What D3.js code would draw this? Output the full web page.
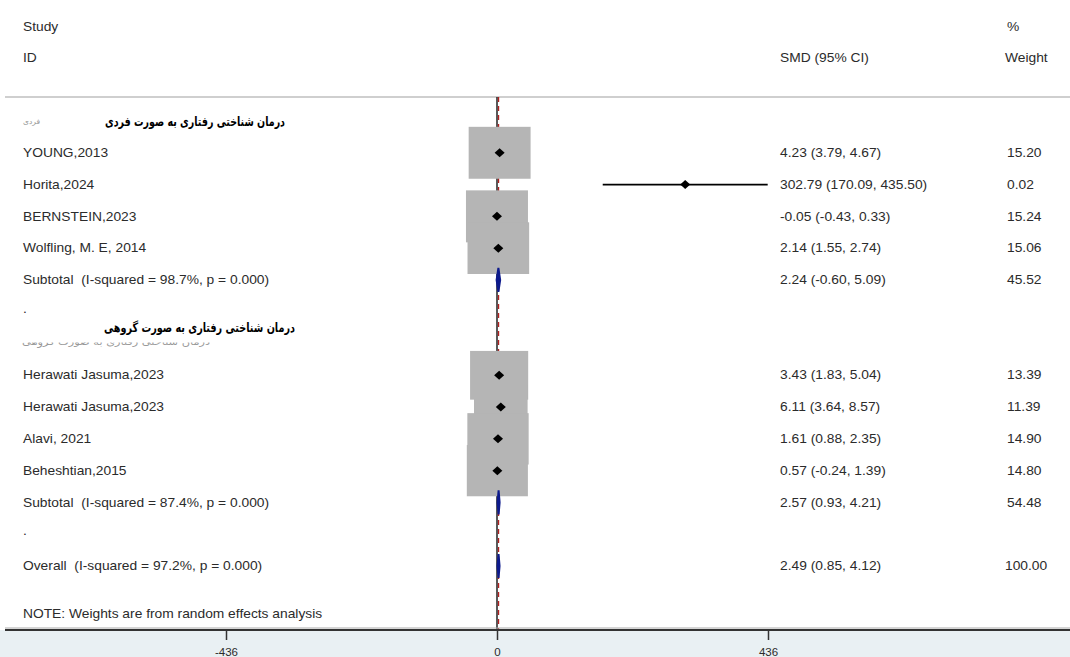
<!DOCTYPE html>
<html>
<head>
<meta charset="utf-8">
<script src="https://cdn.jsdelivr.net/npm/d3@7"></script>
<style>
  html, body { margin: 0; padding: 0; background: #fff; }
  svg { display: block; }
  text { font-family: "Liberation Sans", Arial, sans-serif; fill: #2b2b2b; }
  .fa { font-family: "DejaVu Sans", sans-serif; font-weight: bold; fill: #000; }
</style>
</head>
<body>
<svg id="chart" width="1070" height="657"></svg>
<script>
// Individual studies (standardized mean difference, 95% CI, random-effects weight)
const studies   = ["YOUNG,2013", "Horita,2024", "BERNSTEIN,2023", "Wolfling, M. E, 2014",
                   "Herawati Jasuma,2023", "Herawati Jasuma,2023", "Alavi, 2021", "Beheshtian,2015"];
const studyRows = [1, 2, 3, 4, 8, 9, 10, 11];
const smd       = [4.23, 302.79, -0.05, 2.14, 3.43, 6.11, 1.61, 0.57];
const ciLow     = [3.79, 170.09, -0.43, 1.55, 1.83, 3.64, 0.88, -0.24];
const ciHigh    = [4.67, 435.50, 0.33, 2.74, 5.04, 8.57, 2.35, 1.39];
const weights   = [15.20, 0.02, 15.24, 15.06, 13.39, 11.39, 14.90, 14.80];

// Pooled estimates: two subgroups and overall
const pooledLabels = ["Subtotal  (I-squared = 98.7%, p = 0.000)",
                      "Subtotal  (I-squared = 87.4%, p = 0.000)",
                      "Overall  (I-squared = 97.2%, p = 0.000)"];
const pooledRows   = [5, 12, 14];
const pooledSmd    = [2.24, 2.57, 2.49];
const pooledLow    = [-0.60, 0.93, 0.85];
const pooledHigh   = [5.09, 4.21, 4.12];
const pooledWeight = ["45.52", "54.48", "100.00"];

// Subgroup headings
const groupLabels = ["درمان شناختی رفتاری به صورت فردی", "درمان شناختی رفتاری به صورت گروهی"];
const groupRows   = [0, 6.5];
const spacerRows  = [6, 13];

// Axis ticks
const xTicks = [-436, 0, 436];

const svg = d3.select("#chart");
const W = 1070, H = 657;

const x = d3.scaleLinear().domain([-436, 436]).range([226, 768]);
const y = d3.scaleLinear().domain([0, 14]).range([121, 566]);
const boxW = d3.scaleSqrt().domain([0, 15.24]).range([0, 62]);
const boxH = d3.scaleSqrt().domain([0, 15.24]).range([0, 52]);

const axisY = 630, topLineY = 97;
const STRETCH = 1.15;   // Latin labels are drawn slightly wide

// Text helper: left-aligned, vertically centred, horizontally widened
function label(parent, tx, ty, str, size) {
  return parent.append("text")
    .attr("transform", `translate(${tx},${ty}) scale(${STRETCH},1)`)
    .attr("dy", "0.35em")
    .attr("font-size", size || 12)
    .attr("xml:space", "preserve")
    .text(str);
}

// Axis strip background
svg.append("rect").attr("x", 0).attr("y", axisY).attr("width", W).attr("height", H - axisY)
  .attr("fill", "#e9f0f3");

// Header
const colCI = 780, colW = 1007, colL = 23;
label(svg, colL, 27, "Study");
label(svg, colL, 58, "ID");
label(svg, colCI, 58, "SMD (95% CI)");
label(svg, colW, 27, "%");
label(svg, colW - 2, 58, "Weight");

svg.append("line").attr("x1", 5).attr("x2", W).attr("y1", topLineY).attr("y2", topLineY)
  .attr("stroke", "#cfcfcf").attr("stroke-width", 2);

// Null line and overall-effect line
svg.append("line").attr("x1", x(0)).attr("x2", x(0)).attr("y1", topLineY).attr("y2", axisY)
  .attr("stroke", "#222").attr("stroke-width", 1.5);
svg.append("line").attr("x1", x(pooledSmd[2])).attr("x2", x(pooledSmd[2])).attr("y1", topLineY).attr("y2", axisY)
  .attr("stroke", "#b02020").attr("stroke-width", 1.3).attr("stroke-dasharray", "5,4");

// Weight boxes
const idx = d3.range(studies.length);
svg.append("g").selectAll("rect").data(idx).join("rect")
  .attr("x", i => x(smd[i]) - boxW(weights[i]) / 2)
  .attr("y", i => y(studyRows[i]) - boxH(weights[i]) / 2)
  .attr("width", i => boxW(weights[i]))
  .attr("height", i => boxH(weights[i]))
  .attr("fill", "#b5b5b5");

// Confidence intervals
svg.append("g").selectAll("line").data(idx).join("line")
  .attr("x1", i => x(ciLow[i])).attr("x2", i => x(ciHigh[i]))
  .attr("y1", i => y(studyRows[i])).attr("y2", i => y(studyRows[i]))
  .attr("stroke", "#000").attr("stroke-width", 1.8);

// Point estimates
svg.append("g").selectAll("path").data(idx).join("path")
  .attr("d", i => {
    const cx = x(smd[i]), cy = y(studyRows[i]);
    return `M${cx - 5},${cy}L${cx},${cy - 4.5}L${cx + 5},${cy}L${cx},${cy + 4.5}Z`;
  })
  .attr("fill", "#000");

// Pooled diamonds
const pIdx = d3.range(pooledLabels.length);
svg.append("g").selectAll("path").data(pIdx).join("path")
  .attr("d", i => {
    const cy = y(pooledRows[i]);
    return `M${x(pooledLow[i])},${cy}L${x(pooledSmd[i])},${cy - 12}L${x(pooledHigh[i])},${cy}L${x(pooledSmd[i])},${cy + 12}Z`;
  })
  .attr("fill", "#0d1a8c").attr("stroke", "#0d1a8c").attr("stroke-width", 2);

// Text columns
const labels = svg.append("g");
idx.forEach(i => {
  const yy = y(studyRows[i]);
  label(labels, colL, yy, studies[i]);
  label(labels, colCI, yy, `${smd[i].toFixed(2)} (${ciLow[i].toFixed(2)}, ${ciHigh[i].toFixed(2)})`);
  label(labels, colW, yy, weights[i].toFixed(2));
});
pIdx.forEach(i => {
  const yy = y(pooledRows[i]);
  label(labels, colL, yy, pooledLabels[i]);
  label(labels, colCI, yy, `${pooledSmd[i].toFixed(2)} (${pooledLow[i].toFixed(2)}, ${pooledHigh[i].toFixed(2)})`);
  label(labels, i === 2 ? colW - 2 : colW, yy, pooledWeight[i]);
});
spacerRows.forEach(r => {
  label(labels, colL, y(r) - 3, ".");
});

// Faint original subgroup tags
svg.append("text").attr("class", "fa").attr("x", 40).attr("y", y(0)).attr("dy", "0.35em")
  .attr("text-anchor", "end").attr("font-size", 7.5).style("fill", "#9a9a9a").style("font-weight", "normal")
  .text("فردی");
const faint = svg.append("g");
faint.append("text").attr("class", "fa").attr("x", 210).attr("y", y(7) + 1).attr("text-anchor", "end")
  .attr("font-size", 10).attr("textLength", 188).attr("lengthAdjust", "spacingAndGlyphs")
  .style("fill", "#9a9a9a").style("font-weight", "normal")
  .text(groupLabels[1]);
faint.append("rect").attr("x", 15).attr("y", y(7) - 12).attr("width", 205).attr("height", 11).attr("fill", "#fff");

// Subgroup headings
const headRight = [285, 295], headWidth = [180, 191];
groupLabels.forEach((g, i) => {
  svg.append("text").attr("class", "fa").attr("x", headRight[i]).attr("y", y(groupRows[i]))
    .attr("dy", "0.35em").attr("text-anchor", "end").attr("font-size", 13)
    .attr("textLength", headWidth[i]).attr("lengthAdjust", "spacingAndGlyphs")
    .text(g);
});

// Note
label(svg, colL, 614, "NOTE: Weights are from random effects analysis", 12);

// X axis
const axis = svg.append("g").attr("transform", `translate(0,${axisY})`)
  .call(d3.axisBottom(x).tickValues(xTicks).tickSize(10).tickPadding(8)
    .tickFormat(d => String(d)));
axis.select(".domain").remove();
axis.selectAll(".tick line").attr("stroke", "#333").attr("stroke-width", 1.5);
axis.selectAll(".tick text").attr("font-size", 11.5).attr("font-family", "Liberation Sans, Arial, sans-serif").attr("fill", "#333");
svg.append("line").attr("x1", 5).attr("x2", W).attr("y1", axisY).attr("y2", axisY)
  .attr("stroke", "#333").attr("stroke-width", 2);
svg.append("line").attr("x1", 5).attr("x2", W).attr("y1", axisY - 2).attr("y2", axisY - 2)
  .attr("stroke", "#aaa").attr("stroke-width", 1);
</script>
</body>
</html>
